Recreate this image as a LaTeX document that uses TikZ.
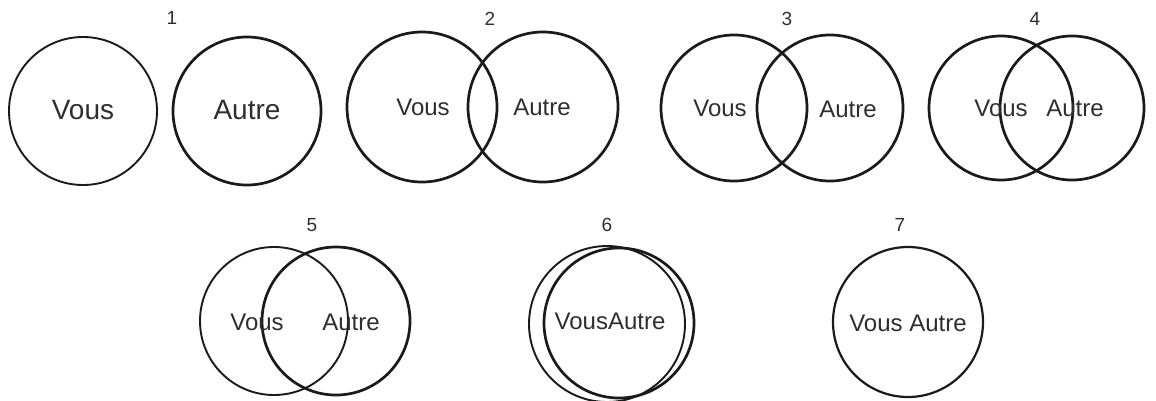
\documentclass[tikz,border=0pt]{standalone}
\usepackage{fontspec}
\setmainfont{Liberation Sans}
\usepackage{xcolor}
\definecolor{ink}{HTML}{1A1A1A}
\definecolor{txt}{HTML}{2E2E2E}

\tikzset{
  ring/.style={draw=ink, circle, inner sep=0pt, minimum size=#1, line width=2.7pt},
  ring/.default=148pt,
  thinring/.style={ring=#1, line width=1.9pt},
  thinring/.default=148pt,
  word/.style={font=\fontsize{24}{24}\selectfont, text=txt, inner sep=0pt},
  bigword/.style={font=\fontsize{28}{28}\selectfont, text=txt, inner sep=0pt},
  num/.style={font=\fontsize{19}{19}\selectfont, text=txt, inner sep=0pt}
}

\begin{document}
\begin{tikzpicture}[x=1pt, y=-1pt]

    \useasboundingbox (0,0) rectangle (1156,400);

    % Panel 1 - apart
    \node[num] (n1) at (172,18) {1};
    \node[thinring] (vous1) at (83,111) {};
    \node[ring] (autre1) at (247,111) {};
    \node[bigword] (tv1) at (83,110) {Vous};
    \node[bigword] (ta1) at (247,110) {Autre};

    % Panel 2 - touching
    \node[num] (n2) at (490,19) {2};
    \node[ring=150pt] (vous2) at (422,107) {};
    \node[ring=150pt] (autre2) at (543,107) {};
    \node[word] (tv2) at (423,107) {Vous};
    \node[word] (ta2) at (542,107) {Autre};

    % Panel 3
    \node[num] (n3) at (787,19) {3};
    \node[ring=146pt] (vous3) at (734,108) {};
    \node[ring=146pt] (autre3) at (830,108) {};
    \node[word] (tv3) at (720,108) {Vous};
    \node[word] (ta3) at (848,109) {Autre};

    % Panel 4
    \node[num] (n4) at (1035,19) {4};
    \node[ring=144pt] (vous4) at (1001,108) {};
    \node[ring=144pt] (autre4) at (1072,108) {};
    \node[word] (tv4) at (1001,108) {Vous};
    \node[word] (ta4) at (1075,108) {Autre};

    % Panel 5
    \node[num] (n5) at (312,225) {5};
    \node[thinring] (vous5) at (274,321) {};
    \node[ring] (autre5) at (336,321) {};
    \node[word] (tv5) at (257,322) {Vous};
    \node[word] (ta5) at (351,322) {Autre};

    % Panel 6 - almost merged
    \node[num] (n6) at (607,225) {6};
    \node[thinring=156pt] (vous6) at (607,324) {};
    \node[ring=150pt] (autre6) at (619,323) {};
    \node[word] (t6) at (610,321) {VousAutre};

    % Panel 7 - one circle
    \node[num] (n7) at (900,225) {7};
    \node[ring=150pt, line width=2.2pt] (both7) at (908,322) {};
    \node[word] (t7) at (908,323) {Vous Autre};

\end{tikzpicture}
\end{document}
